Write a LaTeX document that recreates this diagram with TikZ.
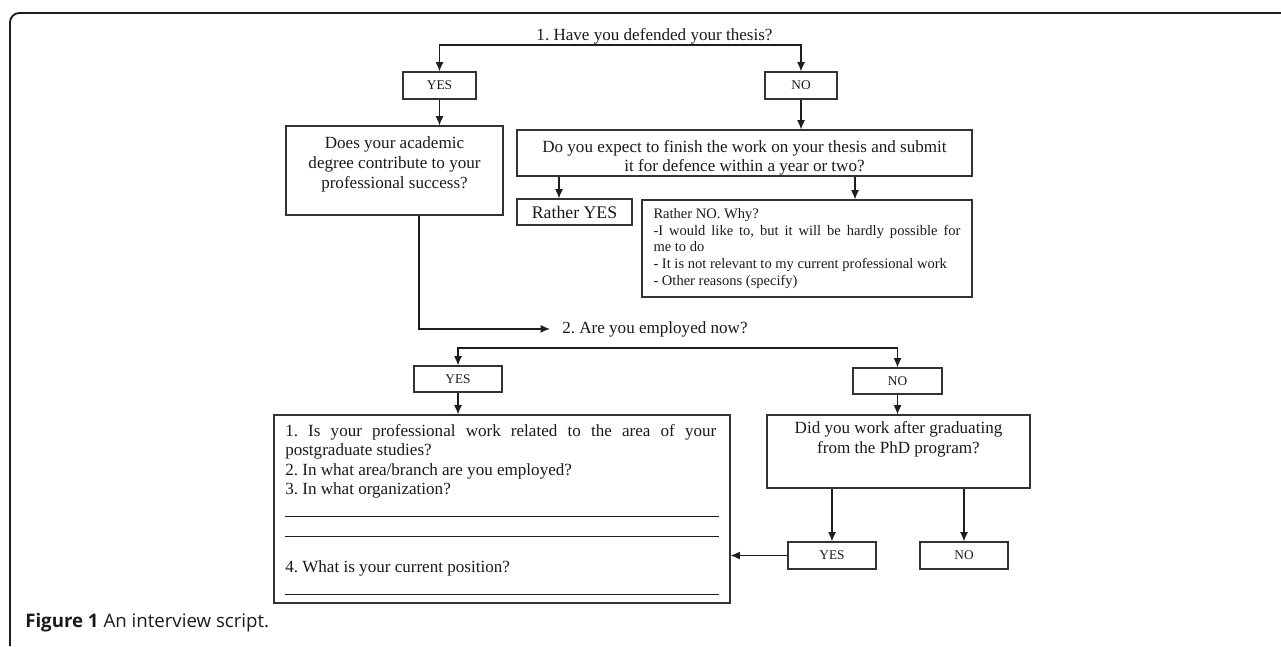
\documentclass[tikz,border=0pt]{standalone}
\usepackage{fontspec}
\setmainfont{Liberation Serif}
\newfontfamily\capfont{Open Sans}
\usetikzlibrary{arrows.meta,calc}
\definecolor{boxc}{HTML}{333333}
\definecolor{linec}{HTML}{1E1E1E}
\definecolor{txtc}{HTML}{1A1A1A}
\frenchspacing
\begin{document}
\begin{tikzpicture}[x=0.75pt,y=-0.75pt,
  bx/.style 2 args={draw=boxc, line width=0.9pt, rectangle, minimum width=#1*0.75pt, minimum height=#2*0.75pt, inner sep=0pt, text=txtc},
  arr/.style={draw=linec, line width=0.95pt, -{Latex[length=7pt,width=6pt]}},
  rule/.style={draw=linec, line width=0.75pt},
  main/.style={font=\fontsize{12.8}{15}\selectfont, text=txtc},
  small/.style={font=\fontsize{10}{12}\selectfont},
]
\useasboundingbox (0,0) rectangle (1281,646);
% frame
\draw[line width=1.4pt, draw=linec, rounded corners=7pt] (10,646) -- (10,13) -- (1281,13);

% question 1
\node[main, anchor=base, inner sep=0] (q1) at (654.5,40) {1. Have you defended your thesis?};
\coordinate (q1b) at (620,45);
\node[bx={73}{27}, small] (yes1) at (439.5,85.5) {YES};
\node[bx={72}{27}, small] (no1) at (801,85.5) {NO};
\draw[arr] (q1b) -| (yes1.north);
\draw[arr] (q1b) -| (no1.north);

% YES branch
\node[bx={217}{89}] (does) at (394.5,170.5) {};
\node[main, align=center, anchor=north, inner sep=0] (doest) at (394.5,136) {Does your academic\\degree contribute to your\\professional success?};
\draw[arr] (yes1.south) -- (does.north -| yes1.south);

% NO branch
\node[bx={455}{46}] (do) at (744.5,153) {};
\node[font=\fontsize{12.8}{13.8}\selectfont, text=txtc, align=center, inner sep=0] (dot) at (744.5,158) {Do you expect to finish the work on your thesis and submit\\it for defence within a year or two?};
\draw[arr] (no1.south) -- (do.north -| no1.south);
\node[bx={115}{26}, font=\fontsize{13.3}{15}\selectfont] (ry) at (574.5,212) {Rather YES};
\node[bx={330}{97}, font=\fontsize{10.9}{12.4}\selectfont, text width=307*0.75pt, align=justify] (rn) at (807,248.5) {\noindent Rather NO. Why?\\
-I would like to, but it will be hardly possible for\linebreak me to do\\
- It is not relevant to my current professional work\\
- Other reasons (specify)};
\coordinate (ca) at (559,180);
\coordinate (cb) at (855,180);
\draw[arr] (do.south -| ca) -- (ry.north -| ca);
\draw[arr] (do.south -| cb) -- (rn.north -| cb);

% question 2
\node[main, anchor=base west, inner sep=0] (q2) at (562,333) {2. Are you employed now?};
\coordinate (c1) at (419,250);
\draw[arr, shorten >=9pt] (does.south -| c1) |- (q2.west);
\coordinate (q2b) at (680,348);
\node[bx={88}{26}, small] (yes2) at (458,379) {YES};
\node[bx={89}{26}, small] (no2) at (897.5,381) {NO};
\draw[arr] (q2b) -| (yes2.north);
\draw[arr] (q2b) -| (no2.north);

% employed box
\node[bx={456}{188}] (big) at (502,509) {};
\node[font=\fontsize{12.8}{14.6}\selectfont, text=txtc, anchor=north west, text width=431*0.75pt, align=justify, inner sep=0] (bigt) at (285,424) {\noindent 1. Is your professional work related to the area of your\linebreak postgraduate studies?\\
2. In what area/branch are you employed?\\
3. In what organization?};
\draw[rule] (285,516) -- (719,516);
\draw[rule] (285,536) -- (719,536);
\node[main, anchor=base west, inner sep=0] (q4) at (285,572) {4. What is your current position?};
\draw[rule] (285,594) -- (719,594);
\draw[arr] (yes2.south) -- (big.north -| yes2.south);

% not employed
\node[bx={263}{73}] (did) at (898.5,451.5) {};
\node[main, align=center, anchor=north, inner sep=0] (didt) at (898.5,421) {Did you work after graduating\\from the PhD program?};
\node[bx={88}{27}, small] (yes3) at (832,555.5) {YES};
\node[bx={88}{27}, small] (no3) at (964,555.5) {NO};
\draw[arr] (no2.south) -- (did.north -| no2.south);
\draw[arr] (did.south -| yes3.north) -- (yes3.north);
\draw[arr] (did.south -| no3.north) -- (no3.north);
\draw[arr] (yes3.west) -- (yes3.west -| big.east);

% caption
\node[anchor=base west, inner sep=0, text=txtc, font=\capfont\fontsize{14}{16}\selectfont] (cap) at (25,627) {\textbf{Figure 1} An interview script.};
\end{tikzpicture}
\end{document}
